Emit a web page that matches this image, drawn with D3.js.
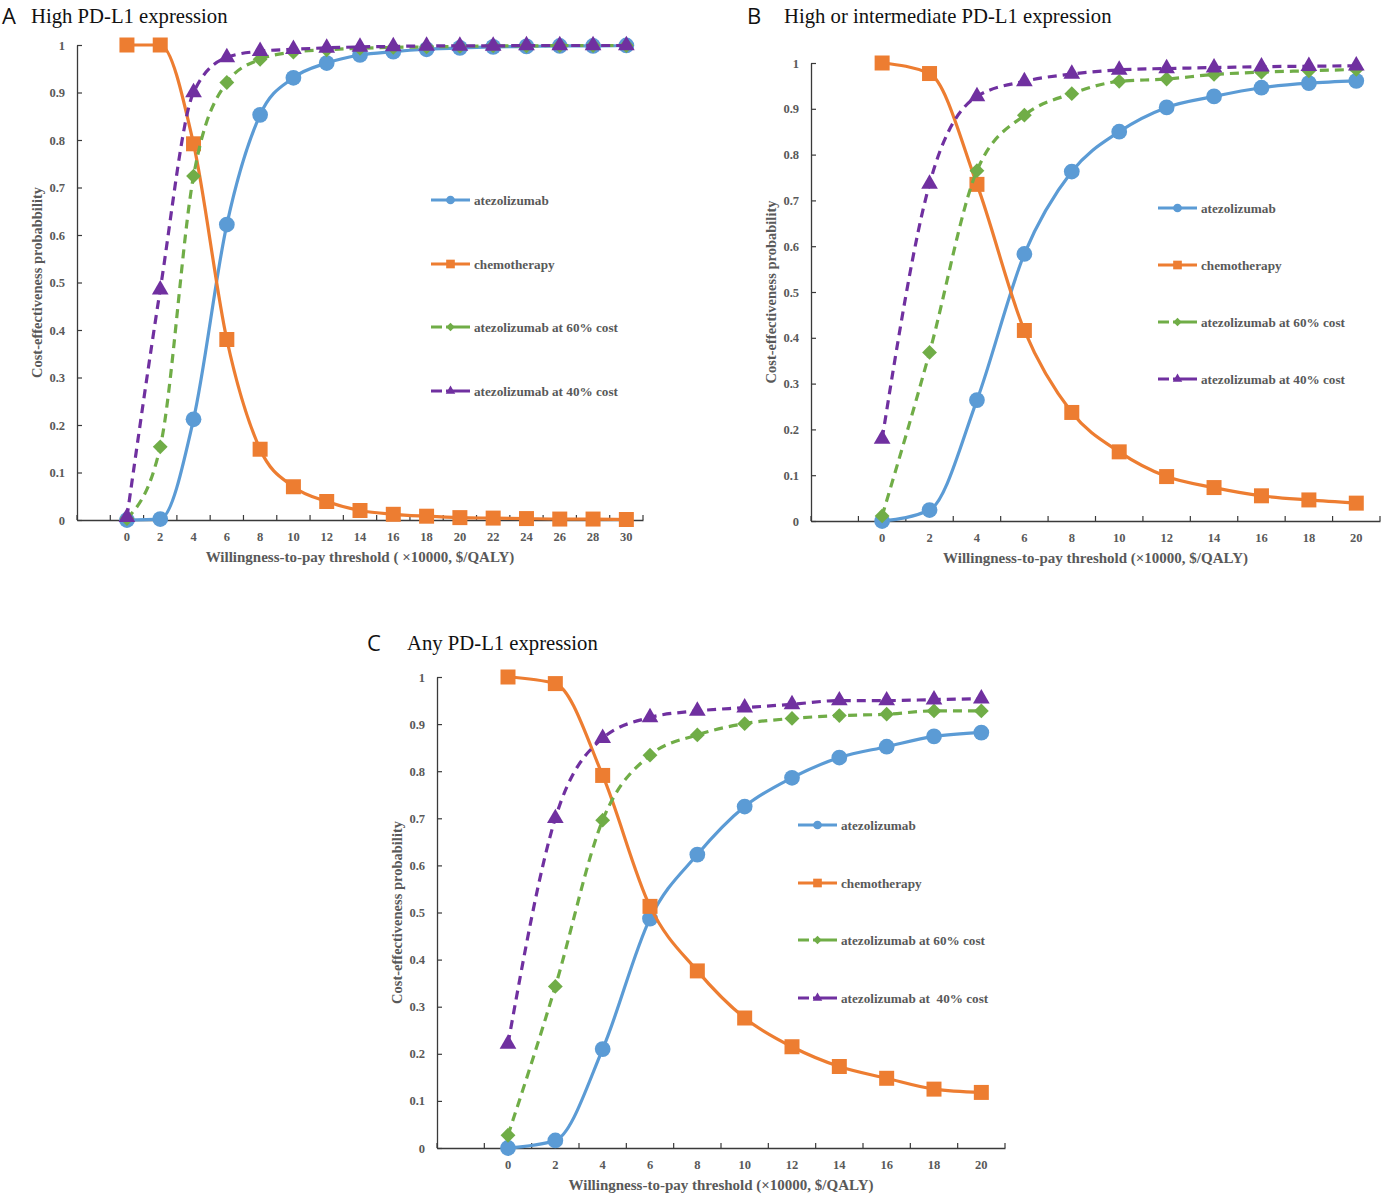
<!DOCTYPE html>
<html>
<head>
<meta charset="utf-8">
<script src="https://cdn.jsdelivr.net/npm/d3@7"></script>
<style>
  html, body { margin: 0; padding: 0; background: #fff; }
  svg { display: block; }
</style>
</head>
<body>
<svg id="chart" width="1382" height="1194"></svg>
<script>
// ---------------- DATA ----------------
const wtpA = [0, 2, 4, 6, 8, 10, 12, 14, 16, 18, 20, 22, 24, 26, 28, 30];
const wtpBC = [0, 2, 4, 6, 8, 10, 12, 14, 16, 18, 20];

// Panel A: High PD-L1 expression
const aAtezo   = [0, 0.002, 0.212, 0.622, 0.853, 0.931, 0.962, 0.979, 0.986, 0.991, 0.994, 0.996, 0.997, 0.998, 0.998, 0.999];
const aChemo   = [1, 1, 0.792, 0.380, 0.149, 0.070, 0.039, 0.020, 0.012, 0.008, 0.005, 0.004, 0.003, 0.002, 0.002, 0.001];
const aAtezo60 = [0.003, 0.154, 0.724, 0.921, 0.970, 0.985, 0.990, 0.993, 0.995, 0.996, 0.997, 0.998, 0.998, 0.999, 0.999, 0.999];
const aAtezo40 = [0.006, 0.485, 0.900, 0.974, 0.987, 0.991, 0.994, 0.996, 0.997, 0.998, 0.998, 0.998, 0.999, 0.999, 0.999, 0.999];

// Panel B: High or intermediate PD-L1 expression
const bAtezo   = [0, 0.024, 0.264, 0.583, 0.763, 0.850, 0.903, 0.927, 0.946, 0.956, 0.961];
const bChemo   = [1, 0.977, 0.735, 0.416, 0.237, 0.151, 0.097, 0.073, 0.055, 0.046, 0.039];
const bAtezo60 = [0.011, 0.368, 0.765, 0.886, 0.933, 0.960, 0.965, 0.975, 0.980, 0.983, 0.986];
const bAtezo40 = [0.179, 0.736, 0.927, 0.960, 0.976, 0.985, 0.988, 0.990, 0.992, 0.993, 0.994];

// Panel C: Any PD-L1 expression
const cAtezo   = [0, 0.016, 0.210, 0.487, 0.623, 0.725, 0.786, 0.829, 0.852, 0.874, 0.882];
const cChemo   = [1, 0.986, 0.791, 0.513, 0.376, 0.276, 0.215, 0.173, 0.148, 0.125, 0.118];
const cAtezo60 = [0.027, 0.343, 0.696, 0.834, 0.877, 0.901, 0.912, 0.918, 0.921, 0.928, 0.928];
const cAtezo40 = [0.221, 0.700, 0.870, 0.914, 0.928, 0.935, 0.942, 0.950, 0.950, 0.952, 0.954];

const yTicks = [0, 0.1, 0.2, 0.3, 0.4, 0.5, 0.6, 0.7, 0.8, 0.9, 1];
const yTickLabels = ["0", "0.1", "0.2", "0.3", "0.4", "0.5", "0.6", "0.7", "0.8", "0.9", "1"];

const seriesNames = ["atezolizumab", "chemotherapy", "atezolizumab at 60% cost", "atezolizumab at 40% cost"];
const seriesNamesC = ["atezolizumab", "chemotherapy", "atezolizumab at 60% cost", "atezolizumab at  40% cost"];

const panelLetters = ["A", "B", "C"];
const panelTitles = ["High PD-L1 expression", "High or intermediate PD-L1 expression", "Any PD-L1 expression"];
const yTitles = ["Cost-effectiveness probabbility", "Cost-effectiveness probability", "Cost-effectiveness probability"];
const xTitles = ["Willingness-to-pay threshold ( \u00d710000, $/QALY)",
                 "Willingness-to-pay threshold (\u00d710000, $/QALY)",
                 "Willingness-to-pay threshold (\u00d710000, $/QALY)"];

// ---------------- STYLE ----------------
const colors = ["#5B9BD5", "#ED7D31", "#70AD47", "#7030A0"];
const markers = ["circle", "square", "diamond", "triangle"];
const dashed = [false, false, true, true];
const textColor = "#595959";
const axisColor = "#3a3a3a";
const serif = "'Liberation Serif', 'Times New Roman', serif";

const panels = [
  { letter: 0, x: wtpA,  s: [aAtezo, aChemo, aAtezo60, aAtezo40], names: seriesNames,
    x0: 77, x1: 643, yTop: 45, yBot: 520, titleX: 2, titleTX: 31, titleY: 23,
    yTitleX: 42, legX: 431, legY: [200, 264, 327, 391] },
  { letter: 1, x: wtpBC, s: [bAtezo, bChemo, bAtezo60, bAtezo40], names: seriesNames,
    x0: 811, x1: 1380, yTop: 63, yBot: 521, titleX: 747, titleTX: 784, titleY: 23,
    yTitleX: 776, legX: 1158, legY: [208, 265, 322, 379] },
  { letter: 2, x: wtpBC, s: [cAtezo, cChemo, cAtezo60, cAtezo40], names: seriesNamesC,
    x0: 437, x1: 1005, yTop: 677, yBot: 1148, titleX: 367, titleTX: 407, titleY: 650,
    yTitleX: 402, legX: 798, legY: [825, 883, 940, 998] }
];

const svg = d3.select("#chart");
svg.append("rect").attr("width", 1382).attr("height", 1194).attr("fill", "#fff");

function markerPath(type, size) {
  const sym = { circle: d3.symbolCircle, square: d3.symbolSquare, diamond: d3.symbolDiamond2, triangle: d3.symbolTriangle2 }[type];
  return d3.symbol().type(sym).size(size)();
}
const markerSize = { circle: 195, square: 225, diamond: 140, triangle: 200 };
const legMarkerSize = { circle: 60, square: 75, diamond: 45, triangle: 65 };
const legDash = { circle: null, square: null, diamond: "11,4,40", triangle: "11,4,40" };

panels.forEach(p => {
  const g = svg.append("g");
  const cats = [""].concat(p.x.map(String));
  const x = d3.scaleBand().domain(cats).range([p.x0, p.x1]).paddingInner(0).paddingOuter(0);
  const y = d3.scaleLinear().domain([0, 1]).range([p.yBot, p.yTop]);
  const cx = v => x(String(v)) + x.bandwidth() / 2;

  // Y axis
  const yAxis = d3.axisLeft(y).tickValues(yTicks).tickFormat((d, i) => yTickLabels[i]).tickSizeInner(-5).tickSizeOuter(0).tickPadding(12);
  const ya = g.append("g").attr("transform", `translate(${p.x0},0)`).call(yAxis);
  ya.select(".domain").attr("stroke", axisColor).attr("stroke-width", 1.3);
  ya.selectAll(".tick line").attr("stroke", axisColor).attr("stroke-width", 1.2);
  ya.selectAll(".tick text").attr("fill", textColor).attr("font-family", serif)
    .attr("font-weight", "bold").attr("font-size", 12.5);

  // X axis: labels centered on categories, tick marks between categories
  const xAxis = d3.axisBottom(x).tickSize(0).tickPadding(12);
  const xa = g.append("g").attr("transform", `translate(0,${p.yBot})`).call(xAxis);
  xa.select(".domain").attr("stroke", axisColor).attr("stroke-width", 1.3);
  xa.selectAll(".tick text").attr("fill", textColor).attr("font-family", serif)
    .attr("font-weight", "bold").attr("font-size", 12.5);
  const edges = cats.map(c => x(c)).concat([p.x1]);
  g.append("g").selectAll("line").data(edges).join("line")
    .attr("x1", d => d).attr("x2", d => d)
    .attr("y1", p.yBot).attr("y2", p.yBot - 5)
    .attr("stroke", axisColor).attr("stroke-width", 1.2);

  // Axis titles
  g.append("text")
    .attr("transform", `translate(${p.yTitleX},${(p.yTop + p.yBot) / 2}) rotate(-90)`)
    .attr("text-anchor", "middle").attr("fill", textColor)
    .attr("font-family", serif).attr("font-weight", "bold").attr("font-size", 14.5)
    .text(yTitles[p.letter]);
  g.append("text")
    .attr("x", (p.x0 + p.x1) / 2).attr("y", p.yBot + 42)
    .attr("text-anchor", "middle").attr("fill", textColor)
    .attr("font-family", serif).attr("font-weight", "bold").attr("font-size", 15)
    .text(xTitles[p.letter]);

  // Panel title
  g.append("text").attr("x", p.titleX).attr("y", p.titleY + 1)
    .attr("font-family", "'Open Sans', 'DejaVu Sans', sans-serif").attr("font-size", 22)
    .attr("fill", "#111").text(panelLetters[p.letter]);
  g.append("text").attr("x", p.titleTX).attr("y", p.titleY)
    .attr("font-family", serif).attr("font-size", 20.7).attr("fill", "#111")
    .text(panelTitles[p.letter]);

  // Series
  p.s.forEach((vals, si) => {
    const pts = p.x.map((v, i) => [cx(v), y(vals[i])]);
    const line = d3.line().curve(d3.curveMonotoneX);
    g.append("path").attr("d", line(pts)).attr("fill", "none")
      .attr("stroke", colors[si]).attr("stroke-width", 3.2)
      .attr("stroke-dasharray", dashed[si] ? "9,6" : null);
    g.append("g").selectAll("path").data(pts).join("path")
      .attr("transform", d => `translate(${d[0]},${d[1]})`)
      .attr("d", markerPath(markers[si], markerSize[markers[si]]))
      .attr("fill", colors[si]);
  });

  // Legend
  p.names.forEach((name, si) => {
    const ly = p.legY[si];
    const lg = g.append("g");
    lg.append("line").attr("x1", p.legX).attr("x2", p.legX + 39).attr("y1", ly).attr("y2", ly)
      .attr("stroke", colors[si]).attr("stroke-width", 3.2)
      .attr("stroke-dasharray", legDash[markers[si]]);
    lg.append("path").attr("transform", `translate(${p.legX + 19.5},${ly})`)
      .attr("d", markerPath(markers[si], legMarkerSize[markers[si]])).attr("fill", colors[si]);
    lg.append("text").attr("x", p.legX + 43).attr("y", ly + 4.5)
      .attr("fill", textColor).attr("font-family", serif).attr("font-weight", "bold")
      .attr("font-size", 13.2).attr("xml:space", "preserve").style("white-space", "pre")
      .text(name);
  });
});
</script>
</body>
</html>
